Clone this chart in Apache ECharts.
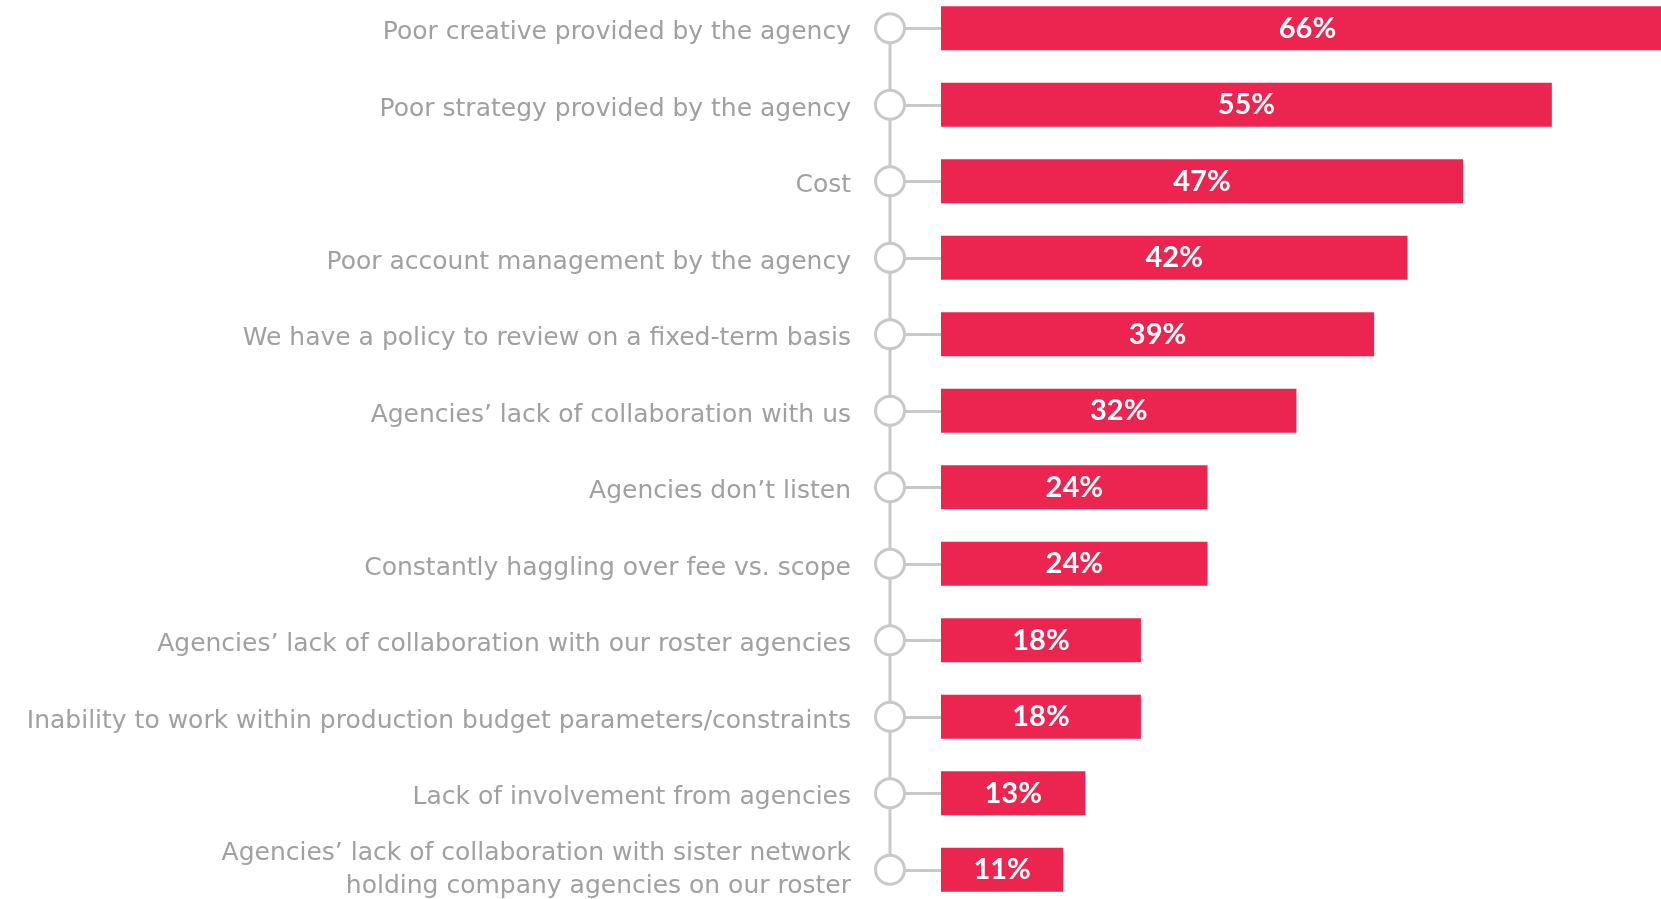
<!DOCTYPE html>
<html>
<head>
<meta charset="utf-8">
<script src="https://cdn.jsdelivr.net/npm/echarts@6/dist/echarts.min.js"></script>
<style>
  html, body { margin: 0; padding: 0; background: #ffffff; }
  #chart { width: 1661px; height: 899px; }
</style>
</head>
<body>
<div id="chart"></div>
<script>
// Reasons for reviewing an agency relationship (% of respondents)
const categories = [
  'Poor creative provided by the agency',
  'Poor strategy provided by the agency',
  'Cost',
  'Poor account management by the agency',
  'We have a policy to review on a fixed-term basis',
  'Agencies\u2019 lack of collaboration with us',
  'Agencies don\u2019t listen',
  'Constantly haggling over fee vs. scope',
  'Agencies\u2019 lack of collaboration with our roster agencies',
  'Inability to work within production budget parameters/constraints',
  'Lack of involvement from agencies',
  'Agencies\u2019 lack of collaboration with sister network\nholding company agencies on our roster'
];
const values = [66, 55, 47, 42, 39, 32, 24, 24, 18, 18, 13, 11];

const RED = '#ec2550';
const GREY_LINE = '#c8c8c8';
const GREY_TEXT = '#a0a0a0';
const LABEL_FONT = '"DejaVu Sans", Lato, sans-serif';
const VALUE_FONT = 'Lato, "DejaVu Sans", sans-serif';
const TOP = -10;
const BOTTOM = -9;

const labelText = { color: GREY_TEXT, fontFamily: LABEL_FONT, fontSize: 25 };

const chart = echarts.init(document.getElementById('chart'), null, { renderer: 'canvas' });

chart.setOption({
  backgroundColor: '#ffffff',
  animation: false,
  grid: [
    // bars (the longest one runs past the right edge)
    { left: 941, right: -13, top: TOP, bottom: BOTTOM, outerBoundsMode: 'none' },
    // timeline column with the circles and labels
    { left: 890, width: 51, top: TOP, bottom: BOTTOM, outerBoundsMode: 'none' }
  ],
  xAxis: [
    { gridIndex: 0, type: 'value', min: 0, max: Math.max(...values), show: false },
    { gridIndex: 1, type: 'value', min: 0, max: 1, show: false }
  ],
  yAxis: [
    {
      gridIndex: 0, type: 'category', data: categories, inverse: true, show: false
    },
    {
      gridIndex: 1, type: 'category', data: categories, inverse: true,
      axisLine: { show: false },
      axisTick: {
        show: true, inside: true, length: 51, alignWithLabel: true,
        lineStyle: { color: GREY_LINE, width: 3 }
      },
      axisLabel: Object.assign({
        margin: 39,
        lineHeight: 33,
        // single-line labels sit a little below the row centre
        formatter: v => {
          const lines = v.split('\n');
          return lines.length === 1
            ? '{one|' + v + '}'
            : lines.map(l => '{multi|' + l + '}').join('\n');
        },
        rich: {
          one: Object.assign({ padding: [9, 0, 0, 0] }, labelText),
          multi: Object.assign({ lineHeight: 33 }, labelText)
        }
      }, labelText),
      splitLine: { show: false }
    }
  ],
  series: [
    {
      type: 'bar',
      xAxisIndex: 0, yAxisIndex: 0,
      data: values,
      barWidth: 44,
      itemStyle: { color: RED },
      label: {
        show: true,
        position: 'inside',
        formatter: '{c}%',
        color: '#ffffff',
        fontFamily: VALUE_FONT,
        fontWeight: 'bold',
        fontSize: 29
      },
      silent: true
    },
    {
      type: 'line',
      xAxisIndex: 1, yAxisIndex: 1,
      data: categories.map(c => [0, c]),
      symbol: 'circle',
      symbolSize: 29,
      showAllSymbol: true,
      clip: false,
      itemStyle: { color: '#ffffff', borderColor: GREY_LINE, borderWidth: 3 },
      lineStyle: { color: GREY_LINE, width: 3 },
      silent: true,
      z: 3
    }
  ]
});
</script>
</body>
</html>
